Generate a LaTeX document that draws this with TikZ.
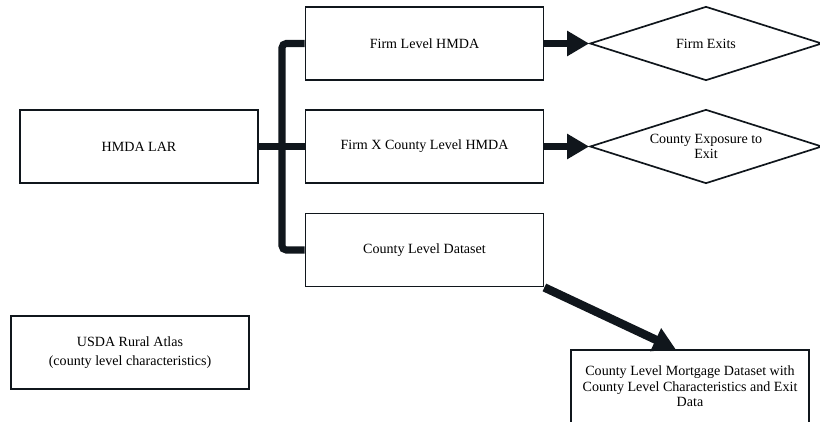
\documentclass[tikz,border=0pt]{standalone}
\usepackage{fontspec}
\setmainfont{Liberation Serif}
\usepackage{tikz}
\usetikzlibrary{arrows.meta}
\usetikzlibrary{calc}
\usetikzlibrary{positioning}
\usetikzlibrary{shapes.geometric}
\definecolor{ink}{RGB}{16,22,28}

\begin{document}
\begin{tikzpicture}[x=0.025cm,y=-0.025cm,
		box/.style={draw=ink, line width=1.2pt, minimum width=5.95cm, minimum height=1.83cm, inner sep=2pt, align=center, font=\fontsize{10}{11}\selectfont},
		decision/.style={diamond, draw=ink, line width=1.2pt, aspect=3.1, minimum width=5.8cm, minimum height=1.85cm, inner sep=0pt, align=center, font=\fontsize{10}{11}\selectfont},
		link/.style={ink, line width=5pt, rounded corners=3pt},
		fat arrow/.style={link, -{Triangle[length=0.55cm, width=0.6cm]}}]
		\useasboundingbox (0,0) rectangle (820,421);
		\clip (0,0) rectangle (820,421);
		% sources
		\node[box] (lar) at (139,146.5) {HMDA LAR};
		\node[box] (usda) at (130,352.5) {USDA Rural Atlas\\[3pt](county level characteristics)};
		% intermediate data sets
		\node[box] (firm) at (424.5,43.5) {Firm Level HMDA};
		\node[box] (firmx) at (424.5,146.5) {Firm X County Level HMDA};
		\node[box] (county) at (424.5,250) {County Level Dataset};
		% results
		\node[decision] (exits) at (706,43.5) {Firm Exits};
		\node[decision] (exposure) at (706,146.5) {County Exposure to\\Exit};
		\node[box] (mort) at (690,386.5) {County Level Mortgage Dataset with\\County Level Characteristics and Exit\\Data};
		% connectors
		\coordinate (trunk) at (282,146.5);
		\coordinate (mtip) at ($(mort.north west)!0.44!(mort.north east)$);
		\draw[link] (lar) -- (firmx);
		\draw[link] (firm.west) -| (trunk) |- (county.west);
		\draw[fat arrow] (firm) -- (exits);
		\draw[fat arrow] (firmx) -- (exposure);
		\draw[fat arrow, line width=6pt] (county.south east) -- (mtip);
	\end{tikzpicture}
\end{document}
